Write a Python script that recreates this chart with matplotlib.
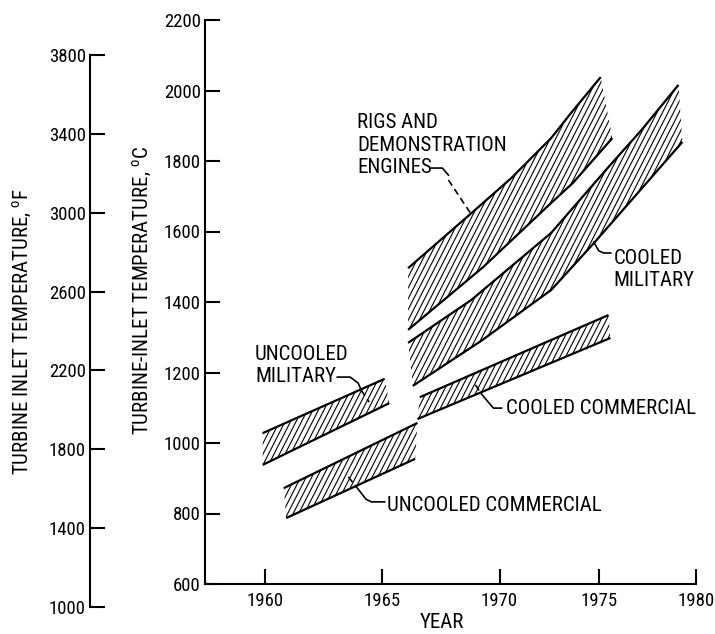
import numpy as np
import matplotlib
matplotlib.use("Agg")
import matplotlib.pyplot as plt
from matplotlib import font_manager
from matplotlib.collections import LineCollection

# pick a narrow sans that is actually installed, else plain DejaVu Sans
installed = {f.name for f in font_manager.fontManager.ttflist}
narrow_fonts = ["Liberation Sans Narrow", "Roboto Condensed", "PT Sans Narrow",
                "Archivo Narrow", "Fira Sans Condensed", "IBM Plex Sans Condensed",
                "Open Sans Condensed", "Encode Sans Condensed", "Asap Condensed"]
font_name = next((f for f in narrow_fonts if f in installed), "DejaVu Sans")
fs = 15 if font_name != "DejaVu Sans" else 12
tick_fs = fs - 1.5

plt.rcParams["font.family"] = [font_name, "DejaVu Sans"]
plt.rcParams["mathtext.fontset"] = "custom"
plt.rcParams["mathtext.rm"] = font_name

# ---------------------------------------------------
# Band edges (year, deg C)
# ---------------------------------------------------

rigs_upper_year = [1966.1, 1968.8, 1970.6, 1972.6, 1973.6, 1975.1]
rigs_upper_temp = [1496, 1652, 1752, 1865, 1936, 2038]
rigs_lower_year = [1966.1, 1969.3, 1972.6, 1973.7, 1975.7]
rigs_lower_temp = [1321, 1499, 1681, 1738, 1865]

cmil_upper_year = [1966.1, 1968.8, 1972.6, 1975.5, 1977.2, 1979.1]
cmil_upper_temp = [1284, 1406, 1596, 1783, 1888, 2016]
cmil_lower_year = [1966.3, 1969.2, 1972.6, 1974.8, 1979.3]
cmil_lower_temp = [1162, 1289, 1434, 1570, 1854]

ccom_upper_year = [1966.6, 1975.5]
ccom_upper_temp = [1130, 1363]
ccom_lower_year = [1966.5, 1975.6]
ccom_lower_temp = [1068, 1298]

umil_upper_year = [1959.9, 1965.1]
umil_upper_temp = [1028, 1182]
umil_lower_year = [1959.9, 1965.3]
umil_lower_temp = [938, 1113]

ucom_upper_year = [1960.8, 1966.5]
ucom_upper_temp = [872, 1057]
ucom_lower_year = [1960.9, 1966.4]
ucom_lower_temp = [787, 955]

year_ticks = [1960, 1965, 1970, 1975, 1980]
degc_ticks = [600, 800, 1000, 1200, 1400, 1600, 1800, 2000, 2200]
degf_ticks = [1000, 1400, 1800, 2200, 2600, 3000, 3400, 3800]

# the printed year axis is not evenly spaced: 1970-1980 is squeezed
scale_years = [1950, 1960, 1965, 1970, 1975, 1980, 1990]
scale_units = [-234, 0, 117, 234, 333, 430, 624]


def year_fwd(x):
    return np.interp(x, scale_years, scale_units)


def year_inv(u):
    return np.interp(u, scale_units, scale_years)


# ---------------------------------------------------
# Figure and axes
# ---------------------------------------------------

W, H = 715, 634
fig = plt.figure(figsize=(W / 100, H / 100), dpi=100)

ax = fig.add_axes([205 / W, 1 - 584 / H, 491 / W, 564 / H])
ax.set_xscale("function", functions=(year_fwd, year_inv))
ax.set_xlim(1957.44, 1980)
ax.set_ylim(600, 2200)
ax.set_xticks(year_ticks)
ax.set_yticks(degc_ticks)
ax.minorticks_off()
ax.spines[["top", "right"]].set_visible(False)
for s in ["left", "bottom"]:
    ax.spines[s].set_linewidth(1.5)
ax.tick_params(direction="in", length=11, width=1.5, labelsize=tick_fs)
ax.tick_params(axis="y", pad=3)
ax.tick_params(axis="x", pad=6)

axf = fig.add_axes([90 / W, 1 - 607 / H, 10 / W, 552 / H])
axf.set_ylim(1000, 3800)
axf.set_yticks(degf_ticks)
axf.set_xticks([])
axf.patch.set_visible(False)
axf.spines[["top", "right", "bottom"]].set_visible(False)
axf.spines["left"].set_linewidth(1.5)
axf.tick_params(direction="in", length=11, width=1.5, labelsize=tick_fs, pad=3)

# ---------------------------------------------------
# Hatched bands
# ---------------------------------------------------

ax_w, ax_h = 491, 564
hatch_angle = np.deg2rad(63)
shift = ax_h / np.tan(hatch_angle) / ax_w
offsets = np.arange(-0.7, 1.05, 5.5 / ax_w)
hatch_segs = [[(c, 0), (c + shift, 1)] for c in offsets]

bands = [
    (rigs_upper_year, rigs_upper_temp, rigs_lower_year, rigs_lower_temp),
    (cmil_upper_year, cmil_upper_temp, cmil_lower_year, cmil_lower_temp),
    (ccom_upper_year, ccom_upper_temp, ccom_lower_year, ccom_lower_temp),
    (umil_upper_year, umil_upper_temp, umil_lower_year, umil_lower_temp),
    (ucom_upper_year, ucom_upper_temp, ucom_lower_year, ucom_lower_temp),
]

for ux, uy, lx, ly in bands:
    px = list(ux) + list(lx)[::-1]
    py = list(uy) + list(ly)[::-1]
    poly = ax.fill(px, py, facecolor="none", edgecolor="none")[0]
    lc = LineCollection(hatch_segs, colors="black", linewidths=0.8,
                        transform=ax.transAxes)
    ax.add_collection(lc, autolim=False)
    lc.set_clip_path(poly)
    ax.plot(ux, uy, color="black", lw=1.6, solid_capstyle="butt")
    ax.plot(lx, ly, color="black", lw=1.6, solid_capstyle="butt")

# ---------------------------------------------------
# Labels and leader lines
# ---------------------------------------------------

ax.text(1963.93, 1845, "RIGS AND\nDEMONSTRATION\nENGINES", fontsize=fs,
        ha="left", va="center", linespacing=1.25)
ax.text(1959.57, 1220, "UNCOOLED\nMILITARY", fontsize=fs,
        ha="left", va="center", linespacing=1.2)
ax.text(1975.77, 1492, "COOLED\nMILITARY", fontsize=fs,
        ha="left", va="center", linespacing=1.2)
ax.text(1970.3, 1099, "COOLED COMMERCIAL", fontsize=fs, ha="left", va="center")
ax.text(1965.2, 824, "UNCOOLED COMMERCIAL", fontsize=fs, ha="left", va="center")

solid_leaders = [
    [(1967.09, 1780), (1967.56, 1780), (1967.82, 1760)],
    [(1963.08, 1187), (1963.63, 1187), (1963.97, 1170), (1964.10, 1150)],
    [(1974.75, 1570), (1975.0, 1545), (1975.26, 1539), (1975.62, 1539)],
    [(1969.23, 1139), (1969.62, 1108), (1969.74, 1099), (1970.1, 1099)],
    [(1963.9, 875), (1964.3, 841), (1964.53, 833), (1965.1, 833)],
]
dashed_leaders = [
    [(1967.82, 1746), (1968.76, 1652)],
    [(1964.10, 1150), (1964.44, 1116)],
    [(1968.97, 1165), (1969.23, 1139)],
    [(1963.55, 904), (1963.9, 875)],
]

for pts in solid_leaders:
    xs, ys = zip(*pts)
    ax.plot(xs, ys, color="black", lw=1.2)
for pts in dashed_leaders:
    xs, ys = zip(*pts)
    ax.plot(xs, ys, color="black", lw=1.2, dashes=(4, 2.5))

fig.text(442 / W, 1 - 623 / H, "YEAR", fontsize=fs, ha="center", va="center")
fig.text(142 / W, 1 - 291 / H, r"TURBINE-INLET TEMPERATURE, $^{\rm o}$C",
         fontsize=fs, rotation=90, ha="center", va="center")
fig.text(22 / W, 1 - 331 / H, r"TURBINE INLET TEMPERATURE, $^{\rm o}$F",
         fontsize=fs, rotation=90, ha="center", va="center")

fig.savefig("out.png", dpi=100)
